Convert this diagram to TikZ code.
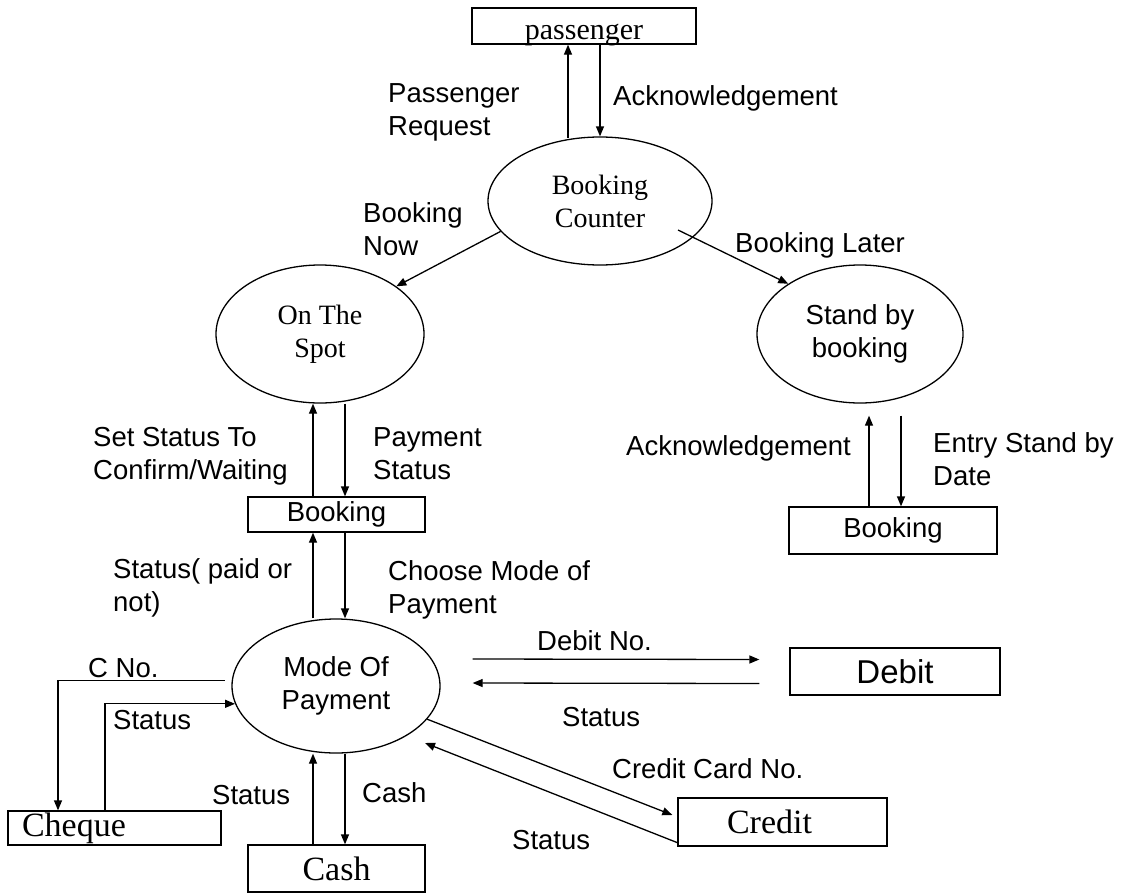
\documentclass[tikz,border=0pt]{standalone}
\usepackage{fontspec}
\setmainfont{Liberation Serif}
\setsansfont{Liberation Sans}
\usetikzlibrary{arrows.meta,shapes.geometric,calc}
\begin{document}
\begin{tikzpicture}[x=1pt,y=-1pt,
  sans/.style={font=\sffamily\fontsize{27.5}{33}\selectfont},
  serif/.style={font=\rmfamily\fontsize{28}{33}\selectfont},
  bigserif/.style={font=\rmfamily\fontsize{34}{38}\selectfont},
  lbl/.style={sans, align=left, anchor=north west, inner sep=0pt},
  proc/.style={draw, ellipse, line width=1.3pt, inner sep=0pt, align=center},
  store/.style={draw, rectangle, line width=1.3pt, inner sep=0pt},
  arr/.style={line width=1.3pt, -{Triangle[length=10pt,width=8pt]}}
]
\useasboundingbox (0,0) rectangle (1126,894);

% processes
\node[proc, serif, minimum width=224, minimum height=128] (bc) at (600,201) {Booking\\Counter};
\node[proc, serif, minimum width=208, minimum height=138] (ots) at (320,334) {On The\\Spot};
\node[proc, sans, minimum width=206, minimum height=138] (sb) at (860,334) {Stand by\\booking};
\node[proc, sans, minimum width=208, minimum height=134] (mop) at (336,686) {Mode Of\\Payment};

% stores / entities
\node[store, font=\rmfamily\fontsize{30}{34}\selectfont, minimum width=224, minimum height=36, text height=30pt, text depth=4pt] (pas) at (584,26) {passenger};
\node[store, sans, minimum width=177, minimum height=35] (bk1) at (336.5,514.5) {Booking};
\node[store, sans, minimum width=208, minimum height=47] (bk2) at (893,530.5) {Booking};
\node[store, font=\sffamily\fontsize{33}{36}\selectfont, minimum width=210, minimum height=47] (deb) at (895,671.5) {Debit};
\node[store, bigserif, minimum height=48, text width=195, inner xsep=7, align=left] (cred) at (782.5,822) {\hspace*{42pt}Credit};
\node[store, bigserif, minimum height=34, text width=185, inner xsep=14, align=left] (chq) at (114.5,828) {Cheque};
\node[store, bigserif, minimum width=177, minimum height=47] (cash) at (336.5,868.5) {Cash};

% columns for vertical flows
\coordinate (c313) at (313,0);
\coordinate (c345) at (345,0);
\coordinate (c568) at (568,0);
\coordinate (c600) at (600,0);
\coordinate (c869) at (869,0);
\coordinate (c901) at (901,0);
\coordinate (c58) at (58,0);
\coordinate (c105) at (105,0);

% flows
\draw[arr] ($(bc.north -| c568)+(0,2)$) -- (pas.south -| c568);
\draw[arr] (pas.south -| c600) -- (bc.north -| c600);
\draw[arr] (bc.197) -- (ots.32);
\draw[arr] ($(bc.center)+(78,29)$) -- (sb.145);
\draw[arr] (bk1.north -| c313) -- (ots.south -| c313);
\draw[arr] (ots.south -| c345) -- (bk1.north -| c345);
\draw[arr] (mop.north -| c313) -- (bk1.south -| c313);
\draw[arr] (bk1.south -| c345) -- (mop.north -| c345);
\draw[arr] (bk2.north -| c869) -- ($(sb.south -| c869)+(0,12)$);
\draw[arr] ($(sb.south -| c901)+(0,12)$) -- (bk2.north -| c901);
\draw[arr] ($(mop.177)+(-7,0)$) -| (chq.north -| c58);
\draw[arr] (chq.north -| c105) |- (mop.190);
\draw[arr] (cash.north -| c313) -- (mop.south -| c313);
\draw[arr] (mop.south -| c345) -- (cash.north -| c345);
\draw[arr] ($(mop.east)+(32,-27)$) -- ($(deb.west)+(-30,-12)$);
\draw[arr] ($(deb.west)+(-30,12)$) -- ($(mop.east)+(32,-3)$);
\draw[arr] (mop.-20) -- ($(cred.west)+(-5,-7)$);
\draw[arr] ($(cred.south west)+(0,-4)$) -- ($(mop.center)+(89,57)$);

% labels
\node[lbl] (lpr) at (388,83) {Passenger\\Request};
\node[lbl] (lack1) at (613,85) {Acknowledgement};
\node[lbl] (lbn) at (363,202) {Booking\\Now};
\node[lbl] (lbl) at (735,232) {Booking Later};
\node[lbl] (lsst) at (93,427) {Set Status To\\Confirm/Waiting};
\node[lbl] (lps) at (373,427) {Payment\\Status};
\node[lbl] (lack2) at (626,435) {Acknowledgement};
\node[lbl] (lesd) at (933,432) {Entry Stand by\\Date};
\node[lbl] (lspn) at (113,558) {Status( paid or\\not)};
\node[lbl] (lcmp) at (388,560) {Choose Mode of\\Payment};
\node[lbl] (ldn) at (537,630) {Debit No.};
\node[lbl] (lsd) at (562,707) {Status};
\node[lbl] (lccn) at (612,758) {Credit Card No.};
\node[lbl] (lscr) at (512,830) {Status};
\node[lbl] (lcno) at (88,658) {C No.};
\node[lbl] (lsch) at (113,710) {Status};
\node[lbl] (lsca) at (212,785) {Status};
\node[lbl] (lcash) at (362,782) {Cash};
\end{tikzpicture}
\end{document}
